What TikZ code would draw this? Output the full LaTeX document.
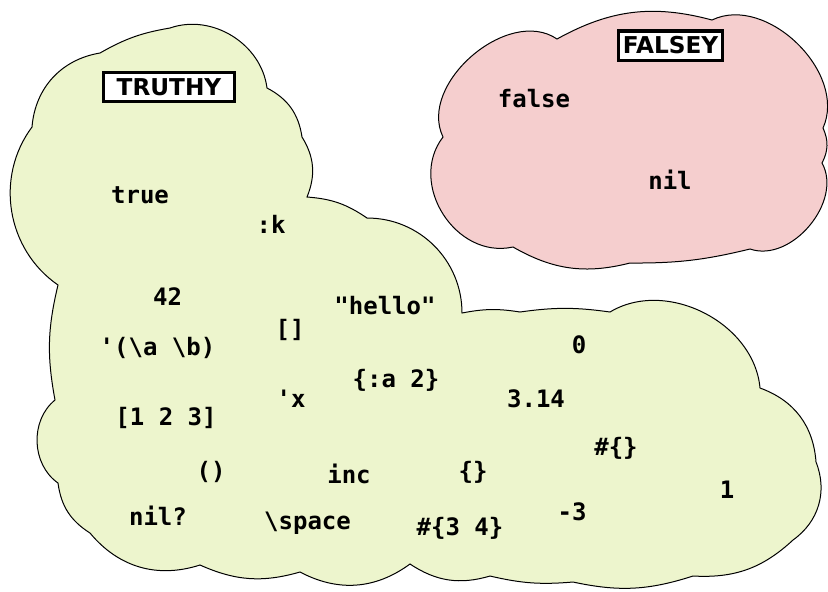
\documentclass[tikz,border=0pt]{standalone}
\usepackage{fontspec}
\usepackage{tikz}
\newfontfamily\codefont{DejaVu Sans Mono}
\newfontfamily\tagfont{DejaVu Sans}
\definecolor{truthygreen}{RGB}{237,245,205}
\definecolor{falseypink}{RGB}{245,206,206}
\tikzset{style={font=\codefont}}

\begin{document}
\begin{tikzpicture}[x=0.5pt,y=-0.5pt,
        word/.style={font=\codefont\bfseries\fontsize{12}{14}\selectfont,anchor=base,inner sep=0pt},
        tag/.style={draw=black,line width=1.6pt,fill=white,inner sep=0pt,minimum height=14.6pt,
                font=\tagfont\bfseries\fontsize{11.6}{13}\selectfont},
        zone/.style={draw=black,line width=0.5pt}]
                \clip (0,0) rectangle (828,591);
                % falsey cloud
                \draw[zone,fill=falseypink] (557,39) to[bend left=22] (712,20)
                to[bend left=70] (823,128) to[bend left=26] (822,163)
                to[bend left=69] (750,249) to[bend left=7] (630,263)
                to[bend left=22] (513,247) to[bend left=70,looseness=1.15] (443,137)
                to[bend left=75] (557,39) -- cycle;
                % truthy cloud
                \draw[zone,fill=truthygreen] (100,53) to[bend left=10] (170,28)
                to[bend left=51] (267,88) to[bend left=27] (302,137)
                to[bend left=27] (307,197) to[bend left=15] (367,218)
                to[bend left=45] (462,313) to[bend left=10] (520,312)
                to[bend left=8] (610,312) to[bend left=58] (760,388)
                to[bend left=33] (816,462) to[bend left=38] (793,540)
                to[bend left=23] (693,576) to[bend left=15] (573,582)
                to[bend left=9] (490,576) to[bend left=25] (410,564)
                to[bend left=32] (300,572) to[bend left=20] (200,565)
                to[bend left=34] (90,533) to[bend left=25] (58,483)
                to[bend left=53] (55,400) to[bend left=12] (58,285)
                to[bend left=46] (32,127) to[bend left=38] (100,53) -- cycle;
                % tags
                \node[tag,minimum width=65.4pt] (truthy) at (169,87) {TRUTHY};
                \node[tag,minimum width=51.9pt] (falsey) at (670.5,45.5) {FALSEY};
                % falsey values
                \node[word] (false) at (534,107) {false};
                \node[word] (nilval) at (670,189) {nil};
                % truthy values
                \node[word] (true) at (140,203) {true};
                \node[word] (kw) at (271,233) {:k};
                \node[word] (int) at (167.5,305) {42};
                \node[word] (str) at (385,314) {"hello"};
                \node[word] (vec) at (290,337) {[]};
                \node[word] (qlist) at (157.5,355) {\textquotesingle(\textbackslash a \textbackslash b)};
                \node[word] (map) at (396,387) {\{:a 2\}};
                \node[word] (sym) at (291,407) {\textquotesingle x};
                \node[word] (vec3) at (166,425) {[1 2 3]};
                \node[word] (list) at (211,479) {()};
                \node[word] (fn) at (349,483) {inc};
                \node[word] (pred) at (158,525) {nil?};
                \node[word] (chr) at (307.5,529) {\textbackslash space};
                \node[word] (set) at (460,535) {\#\{3 4\}};
                \node[word] (emap) at (473,479) {\{\}};
                \node[word] (neg) at (572,520) {-3};
                \node[word] (one) at (727,498) {1};
                \node[word] (eset) at (616,455) {\#\{\}};
                \node[word] (dbl) at (536,407) {3.14};
                \node[word] (zero) at (579,353) {0};
            \end{tikzpicture}
\end{document}
